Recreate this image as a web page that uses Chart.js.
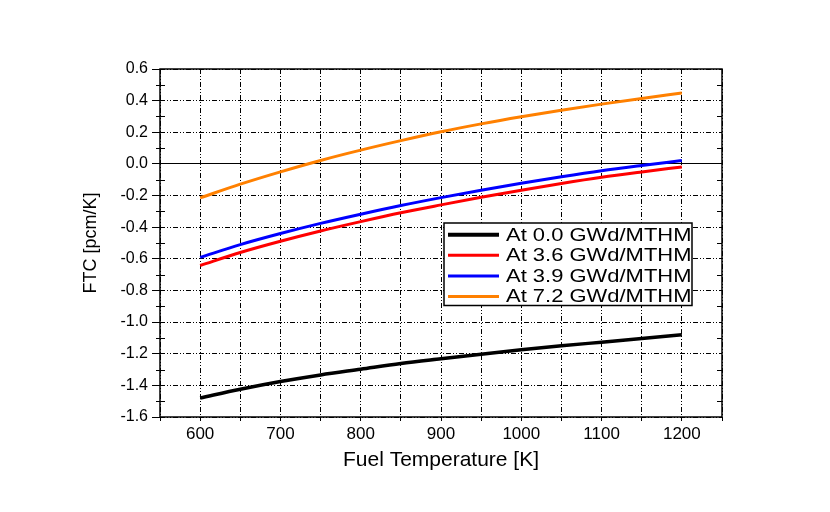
<!DOCTYPE html>
<html>
<head>
<meta charset="utf-8">
<script src="https://cdn.jsdelivr.net/npm/chart.js@4.4.0/dist/chart.umd.min.js"></script>
<style>
html, body { margin: 0; padding: 0; background: #fff; }
</style>
</head>
<body>
<canvas id="ftcChart" width="830" height="512"></canvas>
<script>
// fuel temperature [K]
var temps = [600, 650, 700, 750, 800, 850, 900, 950, 1000, 1050, 1100, 1150, 1200]
// FTC [pcm/K] per burnup step
var ftc00 = [-1.480, -1.425, -1.376, -1.334, -1.298, -1.262, -1.232, -1.203, -1.175, -1.150, -1.127, -1.104, -1.080]
var ftc36 = [-0.642, -0.560, -0.489, -0.424, -0.365, -0.309, -0.259, -0.211, -0.166, -0.124, -0.085, -0.051, -0.019]
var ftc39 = [-0.591, -0.510, -0.440, -0.376, -0.318, -0.263, -0.213, -0.166, -0.122, -0.081, -0.043, -0.010, 0.021]
var ftc72 = [-0.215, -0.128, -0.050, 0.022, 0.087, 0.147, 0.203, 0.253, 0.298, 0.339, 0.378, 0.414, 0.448]
var labels = ["At 0.0 GWd/MTHM", "At 3.6 GWd/MTHM", "At 3.9 GWd/MTHM", "At 7.2 GWd/MTHM"]
var colors = ["#000000", "#ff0000", "#0000ff", "#ff8000"]

Chart.defaults.font.family = '"Liberation Sans", Arial, sans-serif'
Chart.defaults.color = '#000'

var dashPattern = [5, 2, 1, 2, 1, 2]
function isMajorY(v) { return Math.round(Math.abs(v) * 10) % 2 === 0 }
function pts(ys) { return temps.map((t, i) => ({ x: t, y: ys[i] })) }

// frame + minor tick marks
var frame = {
    id: 'frame',
    afterDatasetsDraw(chart) {
        var ctx = chart.ctx, a = chart.chartArea, ys = chart.scales.y
        ctx.save()
        ctx.strokeStyle = '#000'
        ctx.lineWidth = 1.5
        ctx.strokeRect(a.left, a.top, a.right - a.left, a.bottom - a.top)
        ctx.lineWidth = 1
        ctx.beginPath()
        for (var v = -15; v <= 5; v += 2) {
            var py = Math.round(ys.getPixelForValue(v / 10)) + 0.5
            ctx.moveTo(a.left - 4, py); ctx.lineTo(a.left + 5, py)
            ctx.moveTo(a.right - 5, py); ctx.lineTo(a.right, py)
        }
        ctx.stroke()
        ctx.restore()
    }
}

// boxed legend inside the plot
var boxLegend = {
    id: 'boxLegend',
    afterDraw(chart) {
        var ctx = chart.ctx, a = chart.chartArea
        var left = a.right - 278, top = a.top + 154, w = 248, h = 82.5
        ctx.save()
        ctx.fillStyle = '#fff'
        ctx.fillRect(left, top, w, h)
        ctx.strokeStyle = '#000'
        ctx.lineWidth = 1.5
        ctx.strokeRect(left, top, w, h)
        ctx.font = '18px "Liberation Sans", Arial, sans-serif'
        ctx.textBaseline = 'middle'
        chart.data.datasets.forEach((ds, i) => {
            var y = top + 11.7 + i * 20.6
            ctx.strokeStyle = ds.borderColor
            ctx.lineWidth = i === 0 ? 4 : 3
            ctx.beginPath()
            ctx.moveTo(left + 4, y); ctx.lineTo(left + 55, y)
            ctx.stroke()
            ctx.save()
            ctx.translate(left + 62, y + 1)
            ctx.scale(1.22, 1)
            ctx.fillStyle = '#000'
            ctx.fillText(ds.label, 0, 0)
            ctx.restore()
        })
        ctx.restore()
    }
}

var datasets = [ftc00, ftc36, ftc39, ftc72].map((arr, i) => ({
    label: labels[i],
    data: pts(arr),
    borderColor: colors[i],
    backgroundColor: colors[i],
    borderWidth: i === 0 ? 3.5 : 3,
    pointRadius: 0,
    cubicInterpolationMode: 'monotone',
    fill: false
}))

var myChart = new Chart(document.getElementById('ftcChart').getContext('2d'), {
    type: 'line',
    data: { datasets: datasets },
    options: {
        responsive: false,
        animation: false,
        layout: { padding: { left: 76, right: 108, top: 69, bottom: 35 } },
        plugins: { legend: { display: false }, tooltip: { enabled: false } },
        scales: {
            x: {
                type: 'linear',
                min: 550,
                max: 1250,
                afterFit: (s) => { s.height = 60 },
                ticks: {
                    stepSize: 50,
                    autoSkip: false,
                    maxRotation: 0,
                    padding: 3,
                    font: { size: 17 },
                    callback: (v) => v % 100 === 0 ? String(v) : ''
                },
                grid: { color: '#000', lineWidth: 1, tickLength: 4, tickColor: '#000', tickBorderDash: [] },
                border: { display: false, dash: dashPattern },
                title: { display: true, text: 'Fuel Temperature [K]', font: { size: 21 }, padding: { top: 4, bottom: 4 } }
            },
            y: {
                min: -1.6,
                max: 0.6,
                afterFit: (s) => { s.width = 84 },
                ticks: {
                    stepSize: 0.1,
                    autoSkip: false,
                    padding: 4,
                    font: { size: 16 },
                    callback: (v) => isMajorY(v) ? v.toFixed(1) : ''
                },
                grid: {
                    lineWidth: 1,
                    tickLength: 8,
                    tickBorderDash: [],
                    color: (c) => c.tick && isMajorY(c.tick.value) ? '#000' : 'rgba(0,0,0,0)',
                    tickColor: (c) => c.tick && isMajorY(c.tick.value) ? '#000' : 'rgba(0,0,0,0)'
                },
                border: { display: false, dash: (c) => c.tick && Math.abs(c.tick.value) < 1e-9 ? [] : dashPattern },
                title: { display: true, text: 'FTC [pcm/K]', font: { size: 18 }, padding: { top: 4, bottom: 4 } }
            }
        }
    },
    plugins: [frame, boxLegend]
})
</script>
</body>
</html>
